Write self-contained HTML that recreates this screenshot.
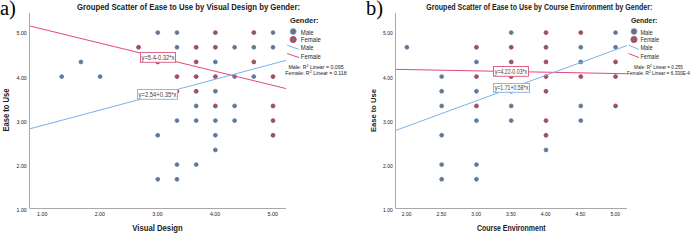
<!DOCTYPE html>
<html><head><meta charset="utf-8"><style>
html,body{margin:0;padding:0;background:#fff;width:690px;height:234px;overflow:hidden;position:relative;font-family:"Liberation Sans", sans-serif}
</style></head><body>
<svg width="690" height="234" viewBox="0 0 690 234" style="position:absolute;left:0;top:0;font-family:'Liberation Sans', sans-serif">
<path d="M29.5 13V208.5H286" fill="none" stroke="#a8a8a8" stroke-width="1"/>
<text x="26.8" y="212.15" font-size="5.3" text-anchor="end" fill="#1a1a1a">1.00</text>
<text x="26.8" y="167.95" font-size="5.3" text-anchor="end" fill="#1a1a1a">2.00</text>
<text x="26.8" y="123.75" font-size="5.3" text-anchor="end" fill="#1a1a1a">3.00</text>
<text x="26.8" y="79.55" font-size="5.3" text-anchor="end" fill="#1a1a1a">4.00</text>
<text x="26.8" y="35.35" font-size="5.3" text-anchor="end" fill="#1a1a1a">5.00</text>
<text x="42.20" y="216.1" font-size="5.3" text-anchor="middle" fill="#1a1a1a">1.00</text>
<text x="99.83" y="216.1" font-size="5.3" text-anchor="middle" fill="#1a1a1a">2.00</text>
<text x="157.46" y="216.1" font-size="5.3" text-anchor="middle" fill="#1a1a1a">3.00</text>
<text x="215.09" y="216.1" font-size="5.3" text-anchor="middle" fill="#1a1a1a">4.00</text>
<text x="272.72" y="216.1" font-size="5.3" text-anchor="middle" fill="#1a1a1a">5.00</text>
<circle cx="157.76" cy="32.60" r="1.95" fill="#6c7474" stroke="#5a84c2" stroke-width="0.85"/>
<circle cx="176.97" cy="32.60" r="1.95" fill="#6c7474" stroke="#5a84c2" stroke-width="0.85"/>
<circle cx="215.39" cy="32.60" r="1.95" fill="#6a6a6a" stroke="#c83360" stroke-width="0.85"/>
<circle cx="253.81" cy="32.60" r="1.95" fill="#6a6a6a" stroke="#c83360" stroke-width="0.85"/>
<circle cx="273.02" cy="32.60" r="1.95" fill="#6c7474" stroke="#5a84c2" stroke-width="0.85"/>
<circle cx="138.55" cy="47.27" r="1.95" fill="#6a6a6a" stroke="#c83360" stroke-width="0.85"/>
<circle cx="176.97" cy="47.27" r="1.95" fill="#6c7474" stroke="#5a84c2" stroke-width="0.85"/>
<circle cx="196.18" cy="47.27" r="1.95" fill="#6a6a6a" stroke="#c83360" stroke-width="0.85"/>
<circle cx="215.39" cy="47.27" r="1.95" fill="#6a6a6a" stroke="#c83360" stroke-width="0.85"/>
<circle cx="234.60" cy="47.27" r="1.95" fill="#6c7474" stroke="#5a84c2" stroke-width="0.85"/>
<circle cx="253.81" cy="47.27" r="1.95" fill="#6c7474" stroke="#5a84c2" stroke-width="0.85"/>
<circle cx="273.02" cy="47.27" r="1.95" fill="#6c7474" stroke="#5a84c2" stroke-width="0.85"/>
<circle cx="80.92" cy="61.93" r="1.95" fill="#6c7474" stroke="#5a84c2" stroke-width="0.85"/>
<circle cx="157.76" cy="61.93" r="1.95" fill="#6a6a6a" stroke="#c83360" stroke-width="0.85"/>
<circle cx="196.18" cy="61.93" r="1.95" fill="#6a6a6a" stroke="#c83360" stroke-width="0.85"/>
<circle cx="215.39" cy="61.93" r="1.95" fill="#6c7474" stroke="#5a84c2" stroke-width="0.85"/>
<circle cx="253.81" cy="61.93" r="1.95" fill="#6a6a6a" stroke="#c83360" stroke-width="0.85"/>
<circle cx="61.71" cy="76.60" r="1.95" fill="#6c7474" stroke="#5a84c2" stroke-width="0.85"/>
<circle cx="100.13" cy="76.60" r="1.95" fill="#6c7474" stroke="#5a84c2" stroke-width="0.85"/>
<circle cx="176.97" cy="76.60" r="1.95" fill="#6a6a6a" stroke="#c83360" stroke-width="0.85"/>
<circle cx="196.18" cy="76.60" r="1.95" fill="#6a6a6a" stroke="#c83360" stroke-width="0.85"/>
<circle cx="215.39" cy="76.60" r="1.95" fill="#6a6a6a" stroke="#c83360" stroke-width="0.85"/>
<circle cx="234.60" cy="76.60" r="1.95" fill="#6c7474" stroke="#5a84c2" stroke-width="0.85"/>
<circle cx="253.81" cy="76.60" r="1.95" fill="#6c7474" stroke="#5a84c2" stroke-width="0.85"/>
<circle cx="273.02" cy="76.60" r="1.95" fill="#6a6a6a" stroke="#c83360" stroke-width="0.85"/>
<circle cx="176.97" cy="91.27" r="1.95" fill="#6a6a6a" stroke="#c83360" stroke-width="0.85"/>
<circle cx="196.18" cy="91.27" r="1.95" fill="#6a6a6a" stroke="#c83360" stroke-width="0.85"/>
<circle cx="215.39" cy="91.27" r="1.95" fill="#6c7474" stroke="#5a84c2" stroke-width="0.85"/>
<circle cx="196.18" cy="105.93" r="1.95" fill="#6c7474" stroke="#5a84c2" stroke-width="0.85"/>
<circle cx="215.39" cy="105.93" r="1.95" fill="#6a6a6a" stroke="#c83360" stroke-width="0.85"/>
<circle cx="234.60" cy="105.93" r="1.95" fill="#6c7474" stroke="#5a84c2" stroke-width="0.85"/>
<circle cx="273.02" cy="105.93" r="1.95" fill="#6a6a6a" stroke="#c83360" stroke-width="0.85"/>
<circle cx="176.97" cy="120.60" r="1.95" fill="#6c7474" stroke="#5a84c2" stroke-width="0.85"/>
<circle cx="196.18" cy="120.60" r="1.95" fill="#6c7474" stroke="#5a84c2" stroke-width="0.85"/>
<circle cx="215.39" cy="120.60" r="1.95" fill="#6c7474" stroke="#5a84c2" stroke-width="0.85"/>
<circle cx="234.60" cy="120.60" r="1.95" fill="#6c7474" stroke="#5a84c2" stroke-width="0.85"/>
<circle cx="273.02" cy="120.60" r="1.95" fill="#6a6a6a" stroke="#c83360" stroke-width="0.85"/>
<circle cx="157.76" cy="135.27" r="1.95" fill="#6c7474" stroke="#5a84c2" stroke-width="0.85"/>
<circle cx="215.39" cy="135.27" r="1.95" fill="#6c7474" stroke="#5a84c2" stroke-width="0.85"/>
<circle cx="273.02" cy="135.27" r="1.95" fill="#6a6a6a" stroke="#c83360" stroke-width="0.85"/>
<circle cx="215.39" cy="149.93" r="1.95" fill="#6c7474" stroke="#5a84c2" stroke-width="0.85"/>
<circle cx="176.97" cy="164.60" r="1.95" fill="#6c7474" stroke="#5a84c2" stroke-width="0.85"/>
<circle cx="196.18" cy="164.60" r="1.95" fill="#6c7474" stroke="#5a84c2" stroke-width="0.85"/>
<circle cx="157.76" cy="179.27" r="1.95" fill="#6c7474" stroke="#5a84c2" stroke-width="0.85"/>
<circle cx="176.97" cy="179.27" r="1.95" fill="#6c7474" stroke="#5a84c2" stroke-width="0.85"/>
<line x1="30.0" y1="26.03" x2="286" y2="88.57" stroke="#e4487a" stroke-width="1"/>
<line x1="30.0" y1="128.78" x2="286" y2="60.37" stroke="#7ab2ee" stroke-width="1"/>
<rect x="140.5" y="52.5" width="35" height="9.8" fill="#fff" stroke="#e2628a" stroke-width="1"/>
<text x="158.00" y="59.9" font-size="7" text-anchor="middle" fill="#444" textLength="33" lengthAdjust="spacingAndGlyphs">y=5.4-0.32*x</text>
<rect x="137.5" y="89.5" width="40" height="9.8" fill="#fff" stroke="#88b6ee" stroke-width="1"/>
<text x="157.50" y="97.2" font-size="7" text-anchor="middle" fill="#444" textLength="37.8" lengthAdjust="spacingAndGlyphs">y=2.54+0.35*x</text>
<text x="77" y="9.6" font-size="8.8" font-weight="bold" fill="#1c1c1c" textLength="223" lengthAdjust="spacingAndGlyphs">Grouped Scatter of Ease to Use by Visual Design by Gender:</text>
<text x="132.3" y="231" font-size="8.8" font-weight="bold" fill="#1c1c1c" textLength="50.4" lengthAdjust="spacingAndGlyphs">Visual Design</text>
<text transform="translate(9.0,131.6) rotate(-90)" x="0" y="0" font-size="8.6" font-weight="bold" fill="#1c1c1c" textLength="43" lengthAdjust="spacingAndGlyphs">Ease to Use</text>
<text x="289.9" y="23.2" font-size="7.6" font-weight="bold" fill="#1c1c1c" textLength="28.7" lengthAdjust="spacingAndGlyphs">Gender:</text>
<circle cx="293.2" cy="31.5" r="3.0" fill="#707070" stroke="#78a8ea" stroke-width="0.7"/>
<circle cx="293.2" cy="39.5" r="3.1" fill="#6e6e6e" stroke="#d8386a" stroke-width="0.9"/>
<text x="300.8" y="34.7" font-size="6.9" fill="#2a2a2a" textLength="12.8" lengthAdjust="spacingAndGlyphs">Male</text>
<text x="300.8" y="42.4" font-size="6.9" fill="#2a2a2a" textLength="20.1" lengthAdjust="spacingAndGlyphs">Female</text>
<line x1="287.2" y1="45.2" x2="299" y2="49.4" stroke="#7ab2ee" stroke-width="1"/>
<line x1="287.2" y1="53.5" x2="299" y2="57.6" stroke="#e4487a" stroke-width="1"/>
<text x="300.8" y="50.4" font-size="6.9" fill="#2a2a2a" textLength="12.8" lengthAdjust="spacingAndGlyphs">Male</text>
<text x="300.8" y="58.5" font-size="6.9" fill="#2a2a2a" textLength="20.1" lengthAdjust="spacingAndGlyphs">Female</text>
<text x="316" y="68.5" font-size="5.9" fill="#1a1a1a" text-anchor="middle" textLength="55.2" lengthAdjust="spacingAndGlyphs">Male: R<tspan dy="-1.9" font-size="4.2">2</tspan><tspan dy="1.9"> Linear = 0.095</tspan></text>
<text x="316" y="74.9" font-size="5.9" fill="#1a1a1a" text-anchor="middle" textLength="61.4" lengthAdjust="spacingAndGlyphs">Female: R<tspan dy="-1.9" font-size="4.2">2</tspan><tspan dy="1.9"> Linear = 0.118</tspan></text>
<text x="0" y="14.8" font-size="20.5" font-family='"Liberation Serif", serif' fill="#000">a)</text>
<path d="M395.5 13V208.5H627" fill="none" stroke="#a8a8a8" stroke-width="1"/>
<text x="392.8" y="212.15" font-size="5.0" text-anchor="end" fill="#1a1a1a">1.00</text>
<text x="392.8" y="167.95" font-size="5.0" text-anchor="end" fill="#1a1a1a">2.00</text>
<text x="392.8" y="123.75" font-size="5.0" text-anchor="end" fill="#1a1a1a">3.00</text>
<text x="392.8" y="79.55" font-size="5.0" text-anchor="end" fill="#1a1a1a">4.00</text>
<text x="392.8" y="35.35" font-size="5.0" text-anchor="end" fill="#1a1a1a">5.00</text>
<text x="406.60" y="216.1" font-size="5.0" text-anchor="middle" fill="#1a1a1a">2.00</text>
<text x="441.37" y="216.1" font-size="5.0" text-anchor="middle" fill="#1a1a1a">2.50</text>
<text x="476.15" y="216.1" font-size="5.0" text-anchor="middle" fill="#1a1a1a">3.00</text>
<text x="510.92" y="216.1" font-size="5.0" text-anchor="middle" fill="#1a1a1a">3.50</text>
<text x="545.70" y="216.1" font-size="5.0" text-anchor="middle" fill="#1a1a1a">4.00</text>
<text x="580.48" y="216.1" font-size="5.0" text-anchor="middle" fill="#1a1a1a">4.50</text>
<text x="615.25" y="216.1" font-size="5.0" text-anchor="middle" fill="#1a1a1a">5.00</text>
<circle cx="511.22" cy="32.60" r="1.95" fill="#6c7474" stroke="#5a84c2" stroke-width="0.85"/>
<circle cx="546.00" cy="32.60" r="1.95" fill="#6a6a6a" stroke="#c83360" stroke-width="0.85"/>
<circle cx="580.77" cy="32.60" r="1.95" fill="#6a6a6a" stroke="#c83360" stroke-width="0.85"/>
<circle cx="615.55" cy="32.60" r="1.95" fill="#6c7474" stroke="#5a84c2" stroke-width="0.85"/>
<circle cx="406.90" cy="47.27" r="1.95" fill="#6c7474" stroke="#5a84c2" stroke-width="0.85"/>
<circle cx="476.45" cy="47.27" r="1.95" fill="#6a6a6a" stroke="#c83360" stroke-width="0.85"/>
<circle cx="511.22" cy="47.27" r="1.95" fill="#6a6a6a" stroke="#c83360" stroke-width="0.85"/>
<circle cx="546.00" cy="47.27" r="1.95" fill="#6a6a6a" stroke="#c83360" stroke-width="0.85"/>
<circle cx="580.77" cy="47.27" r="1.95" fill="#6c7474" stroke="#5a84c2" stroke-width="0.85"/>
<circle cx="615.55" cy="47.27" r="1.95" fill="#6c7474" stroke="#5a84c2" stroke-width="0.85"/>
<circle cx="476.45" cy="61.93" r="1.95" fill="#6c7474" stroke="#5a84c2" stroke-width="0.85"/>
<circle cx="511.22" cy="61.93" r="1.95" fill="#6a6a6a" stroke="#c83360" stroke-width="0.85"/>
<circle cx="546.00" cy="61.93" r="1.95" fill="#6a6a6a" stroke="#c83360" stroke-width="0.85"/>
<circle cx="580.77" cy="61.93" r="1.95" fill="#6c7474" stroke="#5a84c2" stroke-width="0.85"/>
<circle cx="615.55" cy="61.93" r="1.95" fill="#6a6a6a" stroke="#c83360" stroke-width="0.85"/>
<circle cx="441.67" cy="76.60" r="1.95" fill="#6c7474" stroke="#5a84c2" stroke-width="0.85"/>
<circle cx="476.45" cy="76.60" r="1.95" fill="#6a6a6a" stroke="#c83360" stroke-width="0.85"/>
<circle cx="511.22" cy="76.60" r="1.95" fill="#6a6a6a" stroke="#c83360" stroke-width="0.85"/>
<circle cx="546.00" cy="76.60" r="1.95" fill="#6a6a6a" stroke="#c83360" stroke-width="0.85"/>
<circle cx="580.77" cy="76.60" r="1.95" fill="#6a6a6a" stroke="#c83360" stroke-width="0.85"/>
<circle cx="615.55" cy="76.60" r="1.95" fill="#6a6a6a" stroke="#c83360" stroke-width="0.85"/>
<circle cx="441.67" cy="91.27" r="1.95" fill="#6c7474" stroke="#5a84c2" stroke-width="0.85"/>
<circle cx="476.45" cy="91.27" r="1.95" fill="#6c7474" stroke="#5a84c2" stroke-width="0.85"/>
<circle cx="511.22" cy="91.27" r="1.95" fill="#6c7474" stroke="#5a84c2" stroke-width="0.85"/>
<circle cx="546.00" cy="91.27" r="1.95" fill="#6a6a6a" stroke="#c83360" stroke-width="0.85"/>
<circle cx="441.67" cy="105.93" r="1.95" fill="#6c7474" stroke="#5a84c2" stroke-width="0.85"/>
<circle cx="476.45" cy="105.93" r="1.95" fill="#6a6a6a" stroke="#c83360" stroke-width="0.85"/>
<circle cx="511.22" cy="105.93" r="1.95" fill="#6c7474" stroke="#5a84c2" stroke-width="0.85"/>
<circle cx="580.77" cy="105.93" r="1.95" fill="#6c7474" stroke="#5a84c2" stroke-width="0.85"/>
<circle cx="615.55" cy="105.93" r="1.95" fill="#6a6a6a" stroke="#c83360" stroke-width="0.85"/>
<circle cx="476.45" cy="120.60" r="1.95" fill="#6c7474" stroke="#5a84c2" stroke-width="0.85"/>
<circle cx="511.22" cy="120.60" r="1.95" fill="#6c7474" stroke="#5a84c2" stroke-width="0.85"/>
<circle cx="546.00" cy="120.60" r="1.95" fill="#6a6a6a" stroke="#c83360" stroke-width="0.85"/>
<circle cx="580.77" cy="120.60" r="1.95" fill="#6c7474" stroke="#5a84c2" stroke-width="0.85"/>
<circle cx="441.67" cy="135.27" r="1.95" fill="#6c7474" stroke="#5a84c2" stroke-width="0.85"/>
<circle cx="546.00" cy="135.27" r="1.95" fill="#6a6a6a" stroke="#c83360" stroke-width="0.85"/>
<circle cx="546.00" cy="149.93" r="1.95" fill="#6c7474" stroke="#5a84c2" stroke-width="0.85"/>
<circle cx="441.67" cy="164.60" r="1.95" fill="#6c7474" stroke="#5a84c2" stroke-width="0.85"/>
<circle cx="476.45" cy="164.60" r="1.95" fill="#6c7474" stroke="#5a84c2" stroke-width="0.85"/>
<circle cx="441.67" cy="179.27" r="1.95" fill="#6c7474" stroke="#5a84c2" stroke-width="0.85"/>
<circle cx="476.45" cy="179.27" r="1.95" fill="#6c7474" stroke="#5a84c2" stroke-width="0.85"/>
<line x1="396.0" y1="69.35" x2="627" y2="73.74" stroke="#e4487a" stroke-width="1"/>
<line x1="396.0" y1="130.32" x2="627" y2="45.56" stroke="#7ab2ee" stroke-width="1"/>
<rect x="493.5" y="66.5" width="35" height="9.8" fill="#fff" stroke="#e2628a" stroke-width="1"/>
<text x="511.00" y="73.5" font-size="6.5" text-anchor="middle" fill="#444" textLength="32.4" lengthAdjust="spacingAndGlyphs">y=4.22-0.03*x</text>
<rect x="493.5" y="83.5" width="36" height="8.8" fill="#fff" stroke="#88b6ee" stroke-width="1"/>
<text x="511.50" y="90.4" font-size="6.5" text-anchor="middle" fill="#444" textLength="33.6" lengthAdjust="spacingAndGlyphs">y=1.71+0.58*x</text>
<text x="426.3" y="9.6" font-size="8.8" font-weight="bold" fill="#1c1c1c" textLength="226" lengthAdjust="spacingAndGlyphs">Grouped Scatter of Ease to Use by Course Environment by Gender:</text>
<text x="476.9" y="231" font-size="8.8" font-weight="bold" fill="#1c1c1c" textLength="68.6" lengthAdjust="spacingAndGlyphs">Course Environment</text>
<text transform="translate(375.7,132.0) rotate(-90)" x="0" y="0" font-size="7.9" font-weight="bold" fill="#1c1c1c" textLength="43" lengthAdjust="spacingAndGlyphs">Ease to Use</text>
<text x="630.9" y="23.2" font-size="7.3" font-weight="bold" fill="#1c1c1c" textLength="26.5" lengthAdjust="spacingAndGlyphs">Gender:</text>
<circle cx="634" cy="31.5" r="3.0" fill="#707070" stroke="#78a8ea" stroke-width="0.7"/>
<circle cx="634" cy="39.5" r="3.1" fill="#6e6e6e" stroke="#d8386a" stroke-width="0.9"/>
<text x="640.4" y="34.7" font-size="6.7" fill="#2a2a2a" textLength="12.3" lengthAdjust="spacingAndGlyphs">Male</text>
<text x="640.4" y="42.4" font-size="6.7" fill="#2a2a2a" textLength="18.6" lengthAdjust="spacingAndGlyphs">Female</text>
<line x1="628.6" y1="45.2" x2="639" y2="49.4" stroke="#7ab2ee" stroke-width="1"/>
<line x1="628.6" y1="53.5" x2="639" y2="57.6" stroke="#e4487a" stroke-width="1"/>
<text x="640.4" y="50.4" font-size="6.7" fill="#2a2a2a" textLength="12.3" lengthAdjust="spacingAndGlyphs">Male</text>
<text x="640.4" y="58.5" font-size="6.7" fill="#2a2a2a" textLength="18.6" lengthAdjust="spacingAndGlyphs">Female</text>
<text x="658.5" y="68.5" font-size="5.9" fill="#1a1a1a" text-anchor="middle" textLength="48.8" lengthAdjust="spacingAndGlyphs">Male: R<tspan dy="-1.9" font-size="4.2">2</tspan><tspan dy="1.9"> Linear = 0.255</tspan></text>
<text x="658.5" y="74.9" font-size="5.9" fill="#1a1a1a" text-anchor="middle" textLength="62.9" lengthAdjust="spacingAndGlyphs">Female: R<tspan dy="-1.9" font-size="4.2">2</tspan><tspan dy="1.9"> Linear = 6.330E-4</tspan></text>
<text x="366" y="14.8" font-size="20.5" font-family='"Liberation Serif", serif' fill="#000">b)</text>
</svg>
</body></html>
